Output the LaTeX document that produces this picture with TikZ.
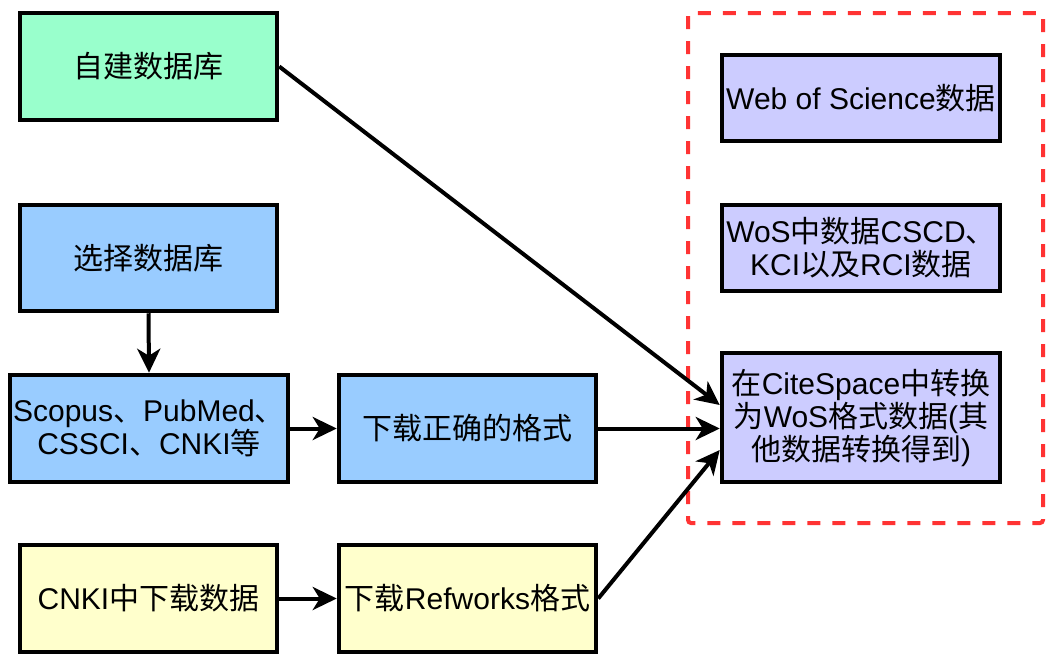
\documentclass[tikz,border=0pt]{standalone}
\usepackage{fontspec}
\setmainfont{Liberation Sans}
\newfontfamily\cjk{Noto Sans CJK SC}
\newcommand\zh[1]{{\cjk #1}}
\usetikzlibrary{arrows.meta}
\definecolor{cgreen}{HTML}{99FFCC}
\definecolor{cblue}{HTML}{99CCFF}
\definecolor{cyellow}{HTML}{FFFFCC}
\definecolor{cpurple}{HTML}{CCCCFF}
\definecolor{cred}{HTML}{FF3333}
\tikzset{
  box/.style={draw=black, line width=4.5pt, rectangle, inner sep=0pt, align=center,
    font=\fontsize{30pt}{33pt}\selectfont},
  conn/.style={draw=black, line width=4pt, -{Stealth[length=24pt,width=23pt,inset=7pt]}},
  group/.style={draw=cred, line width=4pt, dash pattern=on 13pt off 12pt, rounded corners=3pt}
}
\begin{document}
\begin{tikzpicture}[x=1pt,y=-1pt]
\useasboundingbox (0,0) rectangle (1058,670);
\draw[group] (688,13) rectangle (1043,523);
\node[box, fill=cgreen, minimum width=257pt, minimum height=107pt] (zj) at (148.5,66.5) {\zh{自建数据库}};
\node[box, fill=cblue, minimum width=257pt, minimum height=106pt] (xz) at (148.5,258) {\zh{选择数据库}};
\node[box, fill=cblue, minimum width=278pt, minimum height=107pt] (sc) at (149,428.5) {Scopus\zh{、}PubMed\zh{、}\\CSSCI\zh{、}CNKI\zh{等}};
\node[box, fill=cblue, minimum width=257pt, minimum height=107pt] (dl) at (467.5,428.5) {\zh{下载正确的格式}};
\node[box, fill=cyellow, minimum width=257pt, minimum height=107pt] (cnki) at (148.5,598.5) {CNKI\zh{中下载数据}};
\node[box, fill=cyellow, minimum width=257pt, minimum height=107pt] (rf) at (467.5,598.5) {\zh{下载}Refworks\zh{格式}};
\node[box, fill=cpurple, minimum width=278pt, minimum height=86pt] (wos) at (861,98) {Web of Science\zh{数据}};
\node[box, fill=cpurple, minimum width=278pt, minimum height=86pt] (wos2) at (861,248) {WoS\zh{中数据}CSCD\zh{、}\\KCI\zh{以及}RCI\zh{数据}};
\node[box, fill=cpurple, minimum width=278pt, minimum height=129pt] (cs) at (861,417.5) {\zh{在}CiteSpace\zh{中转换}\\\zh{为}WoS\zh{格式数据}(\zh{其}\\\zh{他数据转换得到})};
\coordinate (in1) at ([yshift=12.5pt]cs.west);
\coordinate (in2) at ([yshift=-11pt]cs.west);
\coordinate (in3) at ([yshift=-32.5pt]cs.west);
\draw[conn] (zj.east) -- (in1);
\draw[conn] (dl.east) -- (in2);
\draw[conn] (rf.east) -- (in3);
\draw[conn] (xz.south) -- (sc.north);
\draw[conn] (sc.east) -- (dl.west);
\draw[conn] (cnki.east) -- (rf.west);
\end{tikzpicture}
\end{document}
